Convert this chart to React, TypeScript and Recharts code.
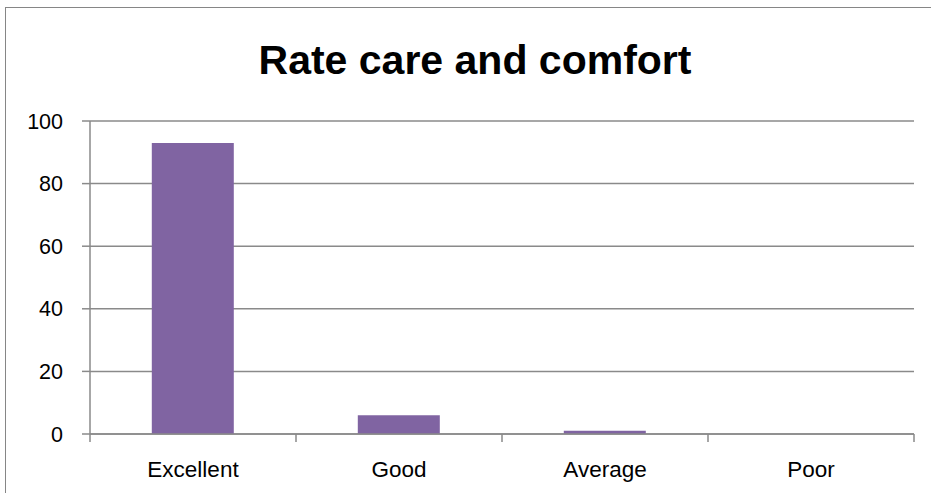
import React from "react";
import { BarChart, Bar, XAxis, YAxis, CartesianGrid } from "recharts";

const categories = ["Excellent", "Good", "Average", "Poor"];
const ratings = [93, 6, 1, 0];
const yTicks = [0, 20, 40, 60, 80, 100];

const data = categories.map((name, i) => ({ name, value: ratings[i] }));

const FONT = "'Liberation Sans', Arial, sans-serif";
const GRID = "#8a8a8a";

// category label plus the boundary tick marks Excel draws between categories
const CategoryTick = (props: any) => {
  const { x, y, payload, width, index } = props;
  const band = width / categories.length;
  const left = x - band / 2;
  const axisY = y - 8;
  return (
    <g>
      <line x1={left} y1={axisY} x2={left} y2={axisY + 8} stroke={GRID} strokeWidth={1.5} />
      {index === categories.length - 1 && (
        <line x1={left + band} y1={axisY} x2={left + band} y2={axisY + 8} stroke={GRID} strokeWidth={1.5} />
      )}
      <text x={x} y={axisY + 43} textAnchor="middle" fontSize={22.5} fontFamily={FONT} fill="#000">
        {payload.value}
      </text>
    </g>
  );
};

export default function App() {
  return (
    <div style={{ position: "absolute", left: 0, top: 0, width: 931, height: 493, overflow: "hidden", background: "#fff" }}>
      <div
        style={{
          position: "absolute",
          left: 5,
          top: 7,
          width: 940,
          height: 500,
          border: "1.5px solid #868686",
        }}
      />
      <div
        style={{
          position: "absolute",
          left: 0,
          top: 37,
          width: 950,
          textAlign: "center",
          fontFamily: FONT,
          fontWeight: "bold",
          fontSize: 41,
          color: "#000",
        }}
      >
        Rate care and comfort
      </div>
      <div style={{ position: "absolute", left: 0, top: 0 }}>
        <BarChart
          width={931}
          height={493}
          data={data}
          margin={{ top: 121, right: 17, left: 0, bottom: 0 }}
          barCategoryGap="30%"
        >
          <CartesianGrid vertical={false} stroke={GRID} strokeWidth={1.5} />
          <XAxis
            dataKey="name"
            height={59}
            axisLine={{ stroke: GRID, strokeWidth: 1.5 }}
            tickLine={false}
            tick={<CategoryTick />}
            interval={0}
          />
          <YAxis
            width={90}
            domain={[0, 100]}
            ticks={yTicks}
            axisLine={{ stroke: GRID, strokeWidth: 1.5 }}
            tickLine={{ stroke: GRID, strokeWidth: 1.5 }}
            tickSize={8}
            tickMargin={19}
            tick={{ fontSize: 21.5, fontFamily: FONT, fill: "#000" }}
          />
          <Bar dataKey="value" fill="#8064A2" isAnimationActive={false} />
        </BarChart>
      </div>
    </div>
  );
}
